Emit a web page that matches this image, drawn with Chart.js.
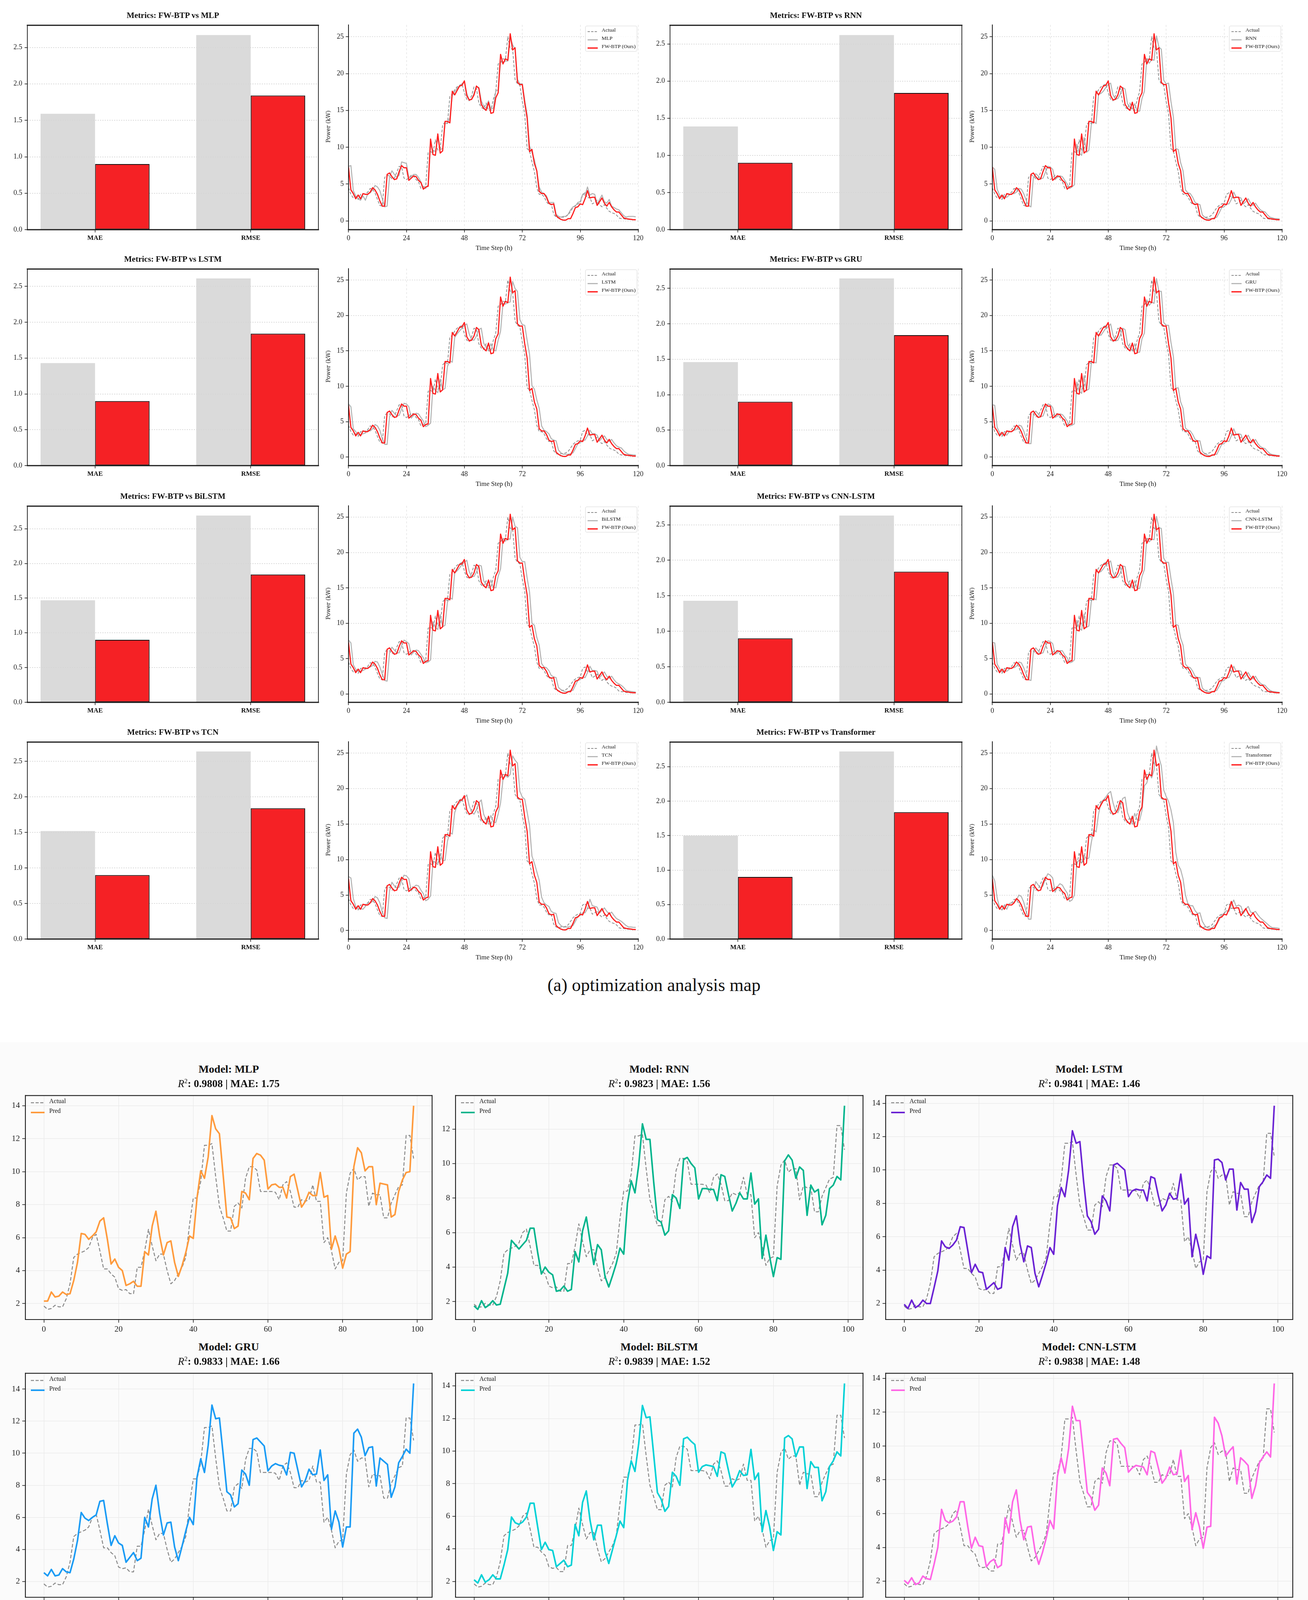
<!DOCTYPE html>
<html>
<head>
<meta charset="utf-8">
<title>FW-BTP optimization and forecasting analysis</title>
<script src="https://cdn.jsdelivr.net/npm/chart.js@4.4.1/dist/chart.umd.min.js"></script>
<style>
  html, body { margin: 0; padding: 0; background: #fff; }
  #page { position: relative; width: 3348px; height: 4961px; overflow: hidden;
          font-family: "Liberation Serif", "Times New Roman", serif; color: #111; }
  #bandB { position: absolute; left: 0; top: 2668px; width: 3348px; height: 2262px; background: #fbfbfb; }
  .txt { position: absolute; transform: translate(-50%, -50%); white-space: nowrap; line-height: 1; }
  .lgA { position: absolute; box-sizing: border-box; border: 1.5px solid #d6d6d6; border-radius: 4px;
         background: rgba(255, 255, 255, 0.85); }
  .lgRow { position: absolute; white-space: nowrap; line-height: 1; transform: translateY(-50%); }
  .smp { position: absolute; overflow: visible; }
</style>
</head>
<body>
<div id="page"><div id="bandB"></div></div>
<script>
// ---------- (a) optimization analysis: metrics + 120 h traces ----------
const metricNames = ["MAE", "RMSE"];
const modelsA = ["MLP", "RNN", "LSTM", "GRU", "BiLSTM", "CNN-LSTM", "TCN", "Transformer"];
const maeA = [1.59, 1.39, 1.43, 1.46, 1.47, 1.43, 1.52, 1.50];
const rmseA = [2.67, 2.62, 2.61, 2.64, 2.69, 2.63, 2.64, 2.72];
const oursMae = 0.90;
const oursRmse = 1.84;
const hourTicks = [0, 24, 48, 72, 96, 120];

const actualA = [
  4.5, 3.6, 3.1, 3.3, 2.9, 3.6, 3.6, 3.7, 3.9, 4.4,
  4.3, 3.8, 2.9, 2.1, 2.0, 5.9, 6.2, 6.1, 5.7, 5.8,
  6.6, 7.4, 7.3, 5.8, 5.6, 5.8, 6.2, 6.1, 5.6, 5.3,
  4.4, 4.6, 4.8, 9.3, 9.4, 9.2, 11.0, 9.6, 9.8, 13.0,
  13.4, 13.2, 16.9, 17.2, 17.8, 18.2, 18.4, 18.6, 17.4, 16.5,
  16.3, 17.0, 18.2, 18.0, 16.0, 15.4, 15.2, 16.0, 15.0, 15.0,
  16.5, 17.5, 21.3, 21.5, 22.0, 21.9, 25.0, 23.4, 23.3, 19.2,
  18.6, 18.4, 16.2, 14.5, 9.8, 9.5, 8.0, 6.7, 4.5, 3.6,
  3.6, 3.3, 2.6, 2.2, 2.3, 0.9, 0.5, 0.4, 0.5, 0.5,
  0.6, 0.8, 1.3, 1.8, 2.1, 2.3, 2.4, 3.6, 3.8, 3.1,
  3.2, 2.3, 2.5, 2.8, 2.2, 1.9, 2.2, 1.7, 1.3, 1.1,
  1.0, 0.8, 0.4, 0.3, 0.3, 0.2, 0.2, 0.15, 0.15, 0.15
];
const oursA = [
  7.3, 4.2, 3.7, 3.0, 3.5, 3.0, 3.7, 3.6, 3.6, 3.9,
  4.5, 4.2, 3.6, 2.7, 2.0, 2.0, 6.3, 6.5, 6.0, 5.6,
  5.7, 6.7, 7.5, 7.2, 7.2, 5.5, 5.8, 6.1, 6.0, 5.5,
  5.2, 4.3, 4.6, 4.7, 11.1, 9.0, 8.9, 11.8, 9.2, 9.5,
  13.5, 13.5, 13.3, 17.6, 17.1, 17.7, 18.3, 18.4, 19.0, 17.0,
  16.4, 16.5, 17.1, 18.3, 18.0, 15.8, 15.3, 15.0, 16.1, 14.6,
  14.7, 16.7, 17.4, 22.6, 21.3, 22.0, 21.8, 25.4, 23.2, 23.5,
  18.8, 18.5, 18.5, 16.0, 14.0, 9.4, 9.7, 7.8, 6.8, 4.0,
  3.7, 3.7, 3.2, 2.4, 2.2, 2.3, 0.7, 0.4, 0.2, 0.1,
  0.1, 0.3, 0.3, 1.0, 1.8, 1.9, 2.3, 2.2, 3.0, 4.1,
  3.1, 3.2, 3.2, 2.1, 2.6, 3.1, 2.4, 2.0, 2.5, 1.9,
  1.5, 1.2, 1.2, 0.8, 0.4, 0.3, 0.25, 0.2, 0.15, 0.15
];
const mlpA = [
  7.4, 7.5, 4.1, 3.4, 3.0, 2.8, 3.4, 2.8, 3.7, 3.8,
  4.2, 4.8, 4.6, 4.1, 3.0, 1.9, 2.0, 6.0, 6.8, 6.3,
  5.9, 6.2, 8.0, 7.9, 7.8, 5.8, 6.0, 6.3, 6.3, 5.9,
  5.3, 4.5, 4.4, 4.9, 10.3, 9.6, 9.4, 11.2, 9.7, 9.8,
  13.2, 13.3, 14.0, 17.0, 17.5, 18.0, 18.3, 18.6, 18.9, 17.3,
  16.4, 16.5, 17.3, 18.2, 18.1, 16.3, 15.6, 15.3, 16.3, 15.2,
  15.3, 17.6, 17.8, 21.6, 21.5, 21.7, 21.7, 24.9, 23.9, 23.3,
  19.2, 18.6, 18.6, 16.4, 14.4, 10.2, 9.3, 8.3, 6.8, 4.6,
  3.9, 3.7, 3.4, 2.5, 2.5, 2.5, 0.9, 0.6, 0.5, 0.6,
  0.6, 0.9, 1.5, 1.9, 2.0, 2.5, 2.6, 3.6, 3.5, 4.6,
  3.5, 3.7, 3.6, 2.3, 2.9, 3.5, 2.6, 2.4, 2.9, 2.0,
  1.8, 1.6, 1.5, 1.1, 0.7, 0.5, 0.6, 0.6, 0.6, 0.55
];
const rnnA = [
  7.3, 7.0, 4.3, 3.5, 3.2, 3.3, 3.2, 3.5, 3.7, 3.7,
  3.9, 4.4, 4.3, 3.7, 2.8, 2.1, 1.9, 5.9, 6.4, 6.1,
  5.7, 5.8, 6.6, 7.4, 7.3, 7.0, 5.6, 5.9, 6.1, 6.0,
  5.5, 5.0, 4.4, 4.6, 4.9, 10.4, 9.2, 8.9, 11.3, 9.3,
  9.6, 13.1, 13.5, 13.2, 17.2, 17.3, 17.6, 18.1, 18.5, 18.7,
  17.1, 16.5, 16.6, 17.2, 18.1, 17.9, 15.9, 15.4, 15.2, 15.9,
  14.9, 14.9, 16.6, 17.6, 22.0, 21.4, 21.9, 21.8, 25.1, 23.6,
  23.3, 19.1, 18.6, 18.7, 16.2, 14.1, 9.8, 9.7, 7.9, 6.8,
  4.2, 3.8, 3.7, 3.2, 2.5, 2.3, 2.2, 0.8, 0.5, 0.3,
  0.3, 0.3, 0.4, 0.5, 1.1, 1.8, 1.9, 2.3, 2.3, 2.9,
  3.9, 3.2, 3.2, 3.1, 2.3, 2.6, 3.0, 2.4, 2.1, 2.4,
  1.9, 1.5, 1.3, 1.2, 0.8, 0.5, 0.4, 0.3, 0.3, 0.25
];
const lstmA = [
  7.5, 7.1, 4.0, 3.6, 3.1, 3.2, 3.3, 3.4, 3.8, 3.7,
  4.0, 4.6, 4.4, 3.8, 2.6, 1.8, 1.8, 5.7, 6.6, 6.2,
  5.8, 5.9, 6.8, 7.6, 7.5, 7.1, 5.5, 5.9, 6.2, 6.1,
  5.6, 5.1, 4.3, 4.5, 4.8, 10.0, 9.4, 9.1, 11.0, 9.5,
  9.7, 12.8, 13.6, 13.4, 16.9, 17.4, 17.8, 18.2, 18.6, 18.8,
  17.4, 16.6, 16.5, 17.1, 18.0, 18.2, 16.1, 15.5, 15.2, 16.0,
  15.1, 15.0, 16.5, 17.8, 21.7, 21.6, 21.8, 21.9, 24.8, 23.8,
  23.4, 19.4, 18.7, 18.6, 16.5, 14.5, 10.1, 9.6, 8.1, 6.9,
  4.4, 3.8, 3.6, 3.3, 2.6, 2.4, 2.3, 1.0, 0.6, 0.4,
  0.4, 0.4, 0.5, 0.6, 1.2, 1.9, 2.0, 2.4, 2.4, 3.0,
  3.8, 3.3, 3.3, 3.1, 2.3, 2.7, 3.0, 2.5, 2.2, 2.5,
  2.0, 1.6, 1.4, 1.3, 0.9, 0.6, 0.4, 0.35, 0.3, 0.3
];
const gruA = [
  7.4, 7.3, 4.2, 3.5, 3.1, 3.3, 3.1, 3.6, 3.6, 3.8,
  3.9, 4.5, 4.4, 3.7, 2.7, 1.9, 1.9, 6.1, 6.5, 6.1,
  5.7, 5.8, 6.7, 7.5, 7.4, 7.0, 5.6, 5.8, 6.1, 6.0,
  5.6, 5.1, 4.4, 4.5, 4.7, 10.6, 9.3, 9.0, 11.5, 9.4,
  9.6, 13.3, 13.4, 13.3, 17.3, 17.2, 17.7, 18.2, 18.4, 18.8,
  17.2, 16.4, 16.5, 17.2, 18.2, 18.0, 15.9, 15.4, 15.1, 16.0,
  14.8, 14.8, 16.7, 17.5, 22.2, 21.4, 21.9, 21.7, 25.2, 23.4,
  23.4, 19.0, 18.6, 18.6, 16.2, 14.2, 9.7, 9.8, 7.8, 6.9,
  4.1, 3.8, 3.7, 3.2, 2.5, 2.3, 2.3, 0.8, 0.5, 0.3,
  0.2, 0.2, 0.4, 0.4, 1.1, 1.8, 1.9, 2.3, 2.2, 3.0,
  4.0, 3.2, 3.3, 3.2, 2.2, 2.6, 3.1, 2.4, 2.1, 2.5,
  1.9, 1.5, 1.3, 1.2, 0.8, 0.5, 0.35, 0.3, 0.25, 0.2
];
const bilstmA = [
  7.6, 7.2, 4.1, 3.5, 3.2, 3.2, 3.3, 3.5, 3.7, 3.8,
  4.0, 4.6, 4.5, 3.8, 2.8, 1.9, 1.8, 5.8, 6.6, 6.2,
  5.8, 5.8, 6.8, 7.6, 7.4, 7.1, 5.5, 5.9, 6.2, 6.1,
  5.6, 5.1, 4.4, 4.5, 4.8, 10.2, 9.4, 9.1, 11.2, 9.5,
  9.7, 13.0, 13.6, 13.4, 17.1, 17.4, 17.8, 18.3, 18.6, 18.9,
  17.3, 16.6, 16.6, 17.2, 18.2, 18.1, 16.0, 15.5, 15.2, 16.1,
  15.0, 15.0, 16.6, 17.7, 21.9, 21.6, 21.9, 21.9, 25.0, 23.7,
  23.5, 19.3, 18.7, 18.7, 16.4, 14.4, 10.0, 9.7, 8.0, 6.9,
  4.3, 3.8, 3.7, 3.3, 2.6, 2.4, 2.3, 0.9, 0.6, 0.4,
  0.3, 0.3, 0.5, 0.5, 1.2, 1.9, 2.0, 2.4, 2.3, 3.0,
  3.9, 3.3, 3.3, 3.2, 2.3, 2.7, 3.1, 2.5, 2.2, 2.5,
  2.0, 1.6, 1.4, 1.2, 0.9, 0.5, 0.4, 0.35, 0.3, 0.25
];
const cnnlstmA = [
  7.3, 7.2, 4.2, 3.6, 3.1, 3.3, 3.2, 3.5, 3.7, 3.7,
  3.9, 4.5, 4.4, 3.7, 2.8, 2.0, 1.9, 5.9, 6.5, 6.1,
  5.7, 5.8, 6.7, 7.5, 7.4, 7.1, 5.6, 5.8, 6.1, 6.1,
  5.5, 5.1, 4.4, 4.5, 4.8, 10.4, 9.3, 9.0, 11.3, 9.4,
  9.6, 13.1, 13.5, 13.3, 17.2, 17.3, 17.7, 18.2, 18.5, 18.8,
  17.2, 16.5, 16.5, 17.1, 18.1, 18.0, 16.0, 15.4, 15.1, 16.0,
  14.9, 14.9, 16.6, 17.6, 22.0, 21.5, 21.9, 21.8, 25.1, 23.5,
  23.4, 19.2, 18.6, 18.6, 16.3, 14.2, 9.8, 9.7, 7.9, 6.9,
  4.2, 3.8, 3.7, 3.2, 2.5, 2.3, 2.3, 0.8, 0.5, 0.3,
  0.3, 0.3, 0.4, 0.5, 1.1, 1.8, 1.9, 2.3, 2.3, 3.0,
  3.9, 3.2, 3.3, 3.2, 2.2, 2.6, 3.0, 2.4, 2.1, 2.5,
  1.9, 1.5, 1.3, 1.2, 0.8, 0.5, 0.35, 0.3, 0.25, 0.2
];
const tcnA = [
  7.6, 7.4, 4.5, 3.4, 3.0, 3.1, 3.0, 3.4, 3.9, 3.9,
  4.1, 4.8, 4.6, 3.9, 2.6, 1.8, 1.7, 5.6, 6.8, 6.3,
  6.0, 6.1, 7.0, 7.8, 7.7, 7.3, 5.6, 6.1, 6.4, 6.3,
  5.7, 5.2, 4.2, 4.4, 4.9, 9.8, 9.6, 9.3, 10.8, 9.8,
  9.9, 12.6, 13.8, 13.6, 16.6, 17.6, 18.0, 18.4, 18.7, 19.1,
  17.6, 16.7, 16.4, 17.0, 18.0, 18.4, 16.4, 15.6, 15.3, 16.2,
  15.3, 15.2, 16.4, 18.0, 21.3, 21.8, 21.6, 22.0, 24.6, 24.0,
  23.6, 19.6, 18.8, 18.5, 16.7, 14.8, 10.5, 9.5, 8.3, 7.1,
  4.7, 3.9, 3.6, 3.4, 2.7, 2.5, 2.4, 1.1, 0.7, 0.5,
  0.5, 0.5, 0.6, 0.7, 1.3, 2.0, 2.1, 2.5, 2.5, 3.1,
  4.4, 3.5, 3.4, 3.3, 2.5, 2.8, 3.2, 2.7, 2.3, 2.6,
  2.1, 1.7, 1.5, 1.3, 1.0, 0.7, 0.5, 0.5, 0.45, 0.45
];
const transformerA = [
  7.8, 7.0, 4.6, 3.2, 2.9, 3.4, 3.0, 3.8, 3.9, 4.0,
  4.3, 5.0, 4.8, 4.0, 2.7, 1.6, 1.6, 5.5, 6.9, 6.4,
  6.0, 6.3, 7.3, 8.0, 7.8, 7.4, 5.4, 6.2, 6.6, 6.4,
  5.8, 5.3, 4.1, 4.3, 5.0, 9.6, 9.9, 9.5, 10.6, 10.1,
  10.2, 12.4, 14.2, 13.9, 16.4, 18.0, 18.4, 18.8, 19.3, 19.6,
  18.0, 16.9, 16.6, 17.5, 18.6, 18.8, 16.6, 15.7, 15.3, 16.5,
  15.6, 15.5, 16.9, 20.4, 20.8, 22.2, 21.5, 22.6, 26.0, 24.4,
  23.2, 19.8, 18.9, 18.2, 17.0, 15.2, 11.0, 9.2, 8.6, 7.3,
  5.0, 3.8, 3.5, 3.5, 2.8, 2.4, 2.5, 1.3, 0.7, 0.4,
  0.3, 0.4, 0.7, 0.9, 1.5, 2.2, 2.4, 2.8, 2.7, 3.6,
  4.3, 3.4, 3.6, 3.4, 2.4, 3.0, 3.4, 2.6, 2.5, 2.7,
  2.2, 1.8, 1.5, 1.2, 0.9, 0.6, 0.4, 0.4, 0.35, 0.3
];
const modelSeriesA = [mlpA, rnnA, lstmA, gruA, bilstmA, cnnlstmA, tcnA, transformerA];

// ---------- (b) wind power forecasting: 100-step traces ----------
const modelsB = ["MLP", "RNN", "LSTM", "GRU", "BiLSTM", "CNN-LSTM", "TCN", "Transformer", "FW-BTP"];
const r2B = ["0.9808", "0.9823", "0.9841", "0.9833", "0.9839", "0.9838", "0.9793", "0.9811", "0.9845"];
const maeB = ["1.75", "1.56", "1.46", "1.66", "1.52", "1.48", "1.92", "1.99", "1.47"];
const colorsB = ["#ff9a3c", "#00b48c", "#6a22d4", "#1a9bf5", "#00d1d6", "#ff66e6", "#ff4d52", "#00adad", "#ff2222"];

const actualB = [
  1.85, 1.65, 1.7, 1.9, 1.8, 1.8, 2.3, 3.2, 4.8, 5.0,
  5.1, 5.2, 5.4, 6.0, 6.2, 5.2, 4.1, 4.1, 3.8, 3.6,
  2.9, 2.8, 2.85, 2.6, 2.6, 4.2, 4.2, 5.2, 6.5, 5.5,
  4.6, 5.0, 5.0, 4.0, 3.2, 3.4, 3.8, 4.2, 4.8, 6.8,
  8.4, 8.4, 9.4, 11.6, 11.6, 11.7, 9.7, 7.9, 7.2, 6.4,
  6.4, 7.9, 8.1, 7.8, 9.6, 10.3, 10.3, 10.1, 8.8, 8.8,
  8.8, 8.8, 8.75, 8.3, 9.2, 9.4, 8.8, 7.85, 7.85, 8.3,
  8.2, 8.3, 9.2, 8.2, 8.2, 5.7, 6.0, 5.2, 4.1, 4.5,
  4.6, 8.7, 9.9, 10.2, 9.5, 9.7, 9.7, 7.9, 8.7, 8.6,
  8.6, 7.2, 7.2, 8.1, 8.6, 9.1, 9.2, 12.2, 12.2, 10.8
];
const mlpB = [
  2.15, 2.15, 2.7, 2.4, 2.45, 2.7, 2.55, 2.6, 3.4, 4.5,
  6.25, 6.2, 5.9, 6.1, 6.35, 7.0, 7.2, 5.9, 4.4, 4.7,
  4.2, 4.0, 3.1, 3.2, 3.35, 3.05, 3.05, 5.15, 4.95, 6.7,
  7.6, 6.1, 4.95, 5.7, 5.8, 4.5, 3.65, 4.3, 5.1, 6.1,
  5.95, 8.4, 10.05, 9.6, 10.9, 13.4, 12.6, 12.3, 9.8, 7.25,
  7.2, 6.55, 6.7, 8.8, 8.7, 8.3, 10.8, 11.1, 11.0, 10.7,
  8.95, 9.2, 9.25, 9.05, 9.05, 8.4, 9.7, 9.85, 8.85, 7.85,
  8.2, 8.75, 8.55, 8.55, 9.95, 8.45, 8.55, 5.3, 6.1, 5.35,
  4.15, 5.0, 5.15, 10.3, 11.45, 11.15, 10.05, 10.3, 10.3, 8.0,
  9.3, 9.25, 9.2, 7.25, 7.4, 8.8, 9.5, 9.95, 10.0, 14.0
];
const rnnB = [
  1.75, 1.55, 2.05, 1.65, 1.8, 2.05, 1.8, 1.85, 2.75, 3.65,
  5.55, 5.3, 5.05, 5.3, 5.55, 6.25, 6.25, 4.85, 3.6, 4.0,
  3.7, 3.55, 2.6, 2.65, 2.9, 2.6, 2.7, 4.9, 4.3, 6.1,
  6.9, 5.5, 4.15, 5.3, 5.0, 3.45, 2.85, 3.5, 4.2, 5.1,
  4.75, 7.7, 9.0, 8.3, 9.9, 12.3, 11.4, 11.4, 8.95, 6.75,
  6.6, 5.85, 6.1, 8.2, 8.0, 7.4, 10.25, 10.35, 10.0, 9.75,
  7.95, 8.55, 8.55, 8.5, 8.5, 7.85, 9.35, 9.25, 8.2, 7.25,
  7.7, 8.3, 7.95, 7.95, 9.45, 7.65, 7.95, 4.5, 5.85, 4.6,
  3.45, 4.55, 4.45, 10.15, 10.5, 10.2, 9.15, 9.8, 9.6, 7.0,
  8.75, 8.35, 8.5, 6.45, 7.0, 8.55, 8.75, 9.25, 9.05, 13.35
];
const lstmB = [
  1.95, 1.7, 2.2, 1.75, 1.9, 2.2, 2.0, 2.0, 2.95, 3.95,
  5.75, 5.4, 5.3, 5.5, 5.8, 6.6, 6.55, 5.2, 3.85, 4.35,
  3.9, 3.85, 2.85, 3.05, 3.25, 2.85, 2.95, 5.35, 4.6, 6.6,
  7.25, 5.55, 4.5, 5.45, 5.35, 3.8, 3.0, 3.7, 4.45, 5.35,
  4.95, 7.85, 8.95, 8.4, 10.0, 12.35, 11.6, 11.7, 9.3, 7.25,
  6.9, 6.15, 6.45, 8.45, 8.15, 7.55, 10.3, 10.4, 10.2, 10.0,
  8.4, 8.75, 8.85, 8.8, 8.8, 8.15, 9.6, 9.5, 8.45, 7.55,
  7.9, 8.6, 8.25, 8.3, 9.75, 7.95, 8.3, 4.8, 6.15, 5.2,
  3.75, 4.85, 4.7, 10.6, 10.65, 10.45, 9.4, 10.05, 10.05, 7.6,
  9.25, 8.85, 8.85, 6.85, 7.5, 9.0, 9.3, 9.7, 9.5, 13.85
];
const gruB = [
  2.55, 2.35, 2.75, 2.35, 2.4, 2.8, 2.6, 2.55, 3.4, 4.55,
  6.3, 5.95, 5.8, 6.0, 6.15, 7.0, 7.05, 5.6, 4.25, 4.85,
  4.4, 4.25, 3.2, 3.5, 3.8, 3.3, 3.45, 6.0, 5.4, 7.15,
  8.0, 6.25, 4.9, 5.65, 5.7, 4.15, 3.3, 4.2, 5.15, 6.0,
  5.55, 8.5, 9.65, 8.8, 10.5, 13.0, 12.15, 12.2, 9.95, 7.6,
  7.4, 6.65, 6.85, 8.95, 8.7, 8.0, 10.85, 10.95, 10.7, 10.45,
  8.9, 9.2, 9.35, 9.25, 9.2, 8.65, 10.05, 10.0, 8.95, 7.9,
  8.3, 9.0, 8.65, 8.7, 10.2, 8.3, 8.65, 5.25, 6.4, 5.7,
  4.15, 5.4, 5.4, 11.25, 11.5, 11.0, 9.85, 10.35, 10.4, 7.95,
  9.7, 9.5, 9.3, 7.25, 7.9, 9.4, 9.8, 10.25, 10.0, 14.35
];
const bilstmB = [
  2.1, 1.9, 2.4, 1.95, 2.1, 2.4, 2.15, 2.15, 3.0, 3.95,
  5.95, 5.6, 5.5, 5.65, 5.95, 6.8, 6.8, 5.35, 3.95, 4.4,
  3.95, 3.9, 2.9, 3.1, 3.3, 2.9, 3.0, 5.5, 4.8, 6.85,
  7.55, 5.75, 4.55, 5.45, 5.45, 3.85, 3.1, 3.95, 4.8, 5.7,
  5.3, 8.2, 9.4, 8.75, 10.45, 12.8, 12.05, 12.1, 9.8, 7.45,
  7.05, 6.3, 6.6, 8.7, 8.45, 7.9, 10.75, 10.85, 10.6, 10.4,
  8.7, 9.05, 9.15, 9.1, 9.05, 8.45, 9.95, 9.85, 8.8, 7.8,
  8.2, 8.8, 8.5, 8.55, 10.1, 8.25, 8.65, 5.05, 6.35, 5.35,
  3.9, 5.05, 4.85, 10.8, 10.95, 10.75, 9.65, 10.25, 10.25, 7.7,
  9.35, 9.0, 9.0, 6.95, 7.5, 9.05, 9.4, 9.95, 9.7, 14.15
];
const cnnlstmB = [
  2.05, 1.85, 2.2, 1.8, 1.9, 2.3, 2.15, 2.1, 3.0, 4.0,
  6.25, 5.6, 5.45, 5.55, 5.8, 6.7, 6.7, 5.25, 3.95, 4.6,
  4.1, 4.05, 2.85, 3.15, 3.3, 2.8, 2.95, 5.75, 4.85, 6.7,
  7.4, 5.6, 4.45, 5.2, 5.25, 3.8, 3.0, 3.7, 4.55, 5.6,
  5.1, 8.2, 9.3, 8.4, 9.85, 12.35, 11.5, 11.5, 9.4, 7.25,
  6.95, 6.2, 6.5, 8.7, 8.4, 7.65, 10.4, 10.45, 10.15, 9.9,
  8.45, 8.7, 8.85, 8.8, 8.75, 8.3, 9.7, 9.6, 8.7, 7.8,
  8.1, 8.75, 8.3, 8.35, 9.75, 7.9, 8.25, 5.05, 6.05, 5.2,
  3.95, 5.2, 5.25, 11.7, 11.35, 10.6, 9.4, 9.7, 9.95, 7.75,
  9.3, 9.1, 8.85, 6.9, 7.65, 9.0, 9.35, 9.65, 9.35, 13.7
];
const tcnB = [
  1.73, 1.8, 1.7, 1.7, 1.6, 1.73, 1.95, 1.88, 2.15, 3.0,
  4.35, 5.4, 5.4, 5.35, 5.65, 6.25, 6.55, 6.0, 4.85, 4.25,
  4.0, 3.75, 3.2, 2.65, 2.65, 2.6, 2.45, 3.75, 4.45, 4.8,
  5.85, 5.55, 4.45, 4.35, 4.75, 3.7, 2.8, 2.6, 3.6, 4.45,
  4.7, 5.7, 7.85, 8.7, 9.1, 10.7, 12.2, 11.85, 10.35, 8.25,
  5.95, 6.0, 6.6, 7.5, 8.35, 8.3, 9.45, 11.1, 11.1, 10.6,
  9.75, 9.0, 9.1, 9.3, 9.45, 9.3, 9.65, 10.6, 10.3, 9.4,
  8.85, 9.1, 9.25, 8.9, 9.25, 9.3, 8.55, 6.65, 5.3, 5.55,
  4.7, 4.4, 4.9, 7.1, 10.15, 10.95, 10.5, 10.05, 10.25, 9.3,
  8.65, 9.05, 8.9, 8.0, 7.05, 7.7, 8.85, 9.45, 9.6, 10.95
];
const transformerB = [
  2.9, 2.9, 3.25, 3.05, 3.1, 3.3, 3.2, 3.2, 3.85, 4.9,
  6.5, 6.8, 6.8, 6.95, 7.2, 7.75, 7.9, 6.9, 5.7, 5.75,
  5.5, 5.35, 4.5, 4.4, 4.5, 4.2, 4.2, 5.9, 5.9, 7.25,
  8.2, 7.3, 6.25, 6.6, 6.55, 5.4, 4.5, 4.8, 5.35, 6.2,
  6.2, 8.05, 9.6, 9.6, 10.7, 12.65, 12.6, 12.7, 10.65, 8.75,
  8.3, 7.7, 7.65, 9.0, 9.2, 8.85, 10.7, 11.2, 11.2, 11.05,
  9.85, 9.85, 9.85, 9.85, 9.8, 9.45, 10.25, 10.4, 9.85, 9.05,
  9.1, 9.55, 9.4, 9.4, 10.35, 9.3, 9.3, 6.95, 7.15, 6.55,
  5.3, 5.8, 5.95, 10.2, 11.3, 11.5, 10.9, 11.0, 11.0, 9.35,
  10.1, 10.1, 10.05, 8.8, 8.85, 9.8, 10.35, 10.7, 10.65, 13.45
];
const fwbtpB = [
  0.6, 1.0, 0.75, 0.8, 1.1, 1.0, 0.95, 1.7, 3.1, 5.25,
  5.2, 5.15, 5.25, 5.5, 6.35, 6.45, 5.25, 3.85, 4.0, 3.6,
  3.4, 2.35, 2.25, 2.25, 1.8, 1.75, 4.35, 4.1, 5.8, 6.9,
  5.5, 4.2, 5.25, 5.35, 3.95, 2.8, 3.35, 4.3, 5.3, 4.95,
  7.75, 9.25, 8.75, 10.2, 12.65, 12.2, 12.25, 9.95, 7.9, 7.1,
  6.35, 6.6, 8.55, 8.45, 7.9, 10.45, 10.85, 10.7, 10.45, 8.85,
  9.05, 9.05, 9.1, 9.05, 8.5, 9.75, 9.8, 8.85, 7.9, 8.05,
  8.6, 8.35, 8.4, 9.8, 8.3, 8.45, 5.3, 6.05, 5.2, 3.8,
  4.6, 4.55, 10.0, 10.55, 10.4, 9.8, 10.15, 10.1, 7.85, 9.0,
  8.8, 8.75, 6.95, 7.2, 8.25, 8.85, 9.45, 9.35, 13.35, 13.1
];
const predSeriesB = [mlpB, rnnB, lstmB, gruB, bilstmB, cnnlstmB, tcnB, transformerB, fwbtpB];

// ---------- layout (page pixels) ----------
const A_BAR_L = [70, 1715], A_BAR_R = [815, 2462];
const A_LINE_L = [892, 2540], A_LINE_R = [1637, 3285];
const A_TOP = [60, 684, 1291, 1895], A_BOT = [588, 1192, 1798, 2404];
const B_L = [65, 1166, 2267], B_R = [1106, 2209, 3309];
const B_T = [2798, 3509, 4221], B_B = [3378, 4089, 4801];
const PAD_A = {l: 70, t: 12, r: 14, b: 40};
const PAD_B = {l: 70, t: 12, r: 14, b: 45};

const page = document.getElementById("page");
Chart.defaults.font.family = "'Liberation Serif', 'Times New Roman', serif";
Chart.defaults.color = "#222";

// matplotlib-like spines, drawn over the data
Chart.register({
  id: "spines",
  afterDatasetsDraw(chart, args, opts) {
    const s = opts.sides;
    if (!s) return;
    const {ctx, chartArea: a} = chart;
    ctx.save();
    ctx.strokeStyle = "#1a1a1a";
    ctx.lineCap = "square";
    const seg = (w, x1, y1, x2, y2) => {
      if (!w) return;
      ctx.lineWidth = w;
      ctx.beginPath(); ctx.moveTo(x1, y1); ctx.lineTo(x2, y2); ctx.stroke();
    };
    seg(s.top, a.left, a.top, a.right, a.top);
    seg(s.bottom, a.left, a.bottom, a.right, a.bottom);
    seg(s.left, a.left, a.top, a.left, a.bottom);
    seg(s.right, a.right, a.top, a.right, a.bottom);
    ctx.restore();
  }
});

function makeCanvas(l, t, r, b, p) {
  const w = r - l + p.l + p.r, h = b - t + p.t + p.b;
  const box = document.createElement("div");
  box.style.cssText = `position:absolute;left:${l - p.l}px;top:${t - p.t}px;width:${w}px;height:${h}px;`;
  const cv = document.createElement("canvas");
  cv.width = w; cv.height = h;
  cv.style.width = w + "px"; cv.style.height = h + "px";
  box.appendChild(cv);
  page.appendChild(box);
  return cv;
}

function addText(html, x, y, css) {
  const d = document.createElement("div");
  d.className = "txt";
  d.innerHTML = html;
  d.style.left = x + "px";
  d.style.top = y + "px";
  if (css) d.style.cssText += css;
  page.appendChild(d);
}

function sampleSvg(w, it) {
  const dash = it.dash ? `stroke-dasharray="${it.dash}"` : "";
  return `<svg width="${w}" height="10" viewBox="0 0 ${w} 10"><line x1="0" y1="5" x2="${w}" y2="5" stroke="${it.color}" stroke-width="${it.width}" ${dash}/></svg>`;
}

function addLegend(x, y, items, o) {
  items.forEach((it, i) => {
    const cy = y + o.first + i * o.step;
    const s = document.createElement("div");
    s.className = "smp";
    s.style.cssText = `left:${x + o.sx}px;top:${cy - 5}px;width:${o.sw}px;height:10px;`;
    s.innerHTML = sampleSvg(o.sw, it);
    page.appendChild(s);
    const t = document.createElement("div");
    t.className = "lgRow";
    t.style.cssText = `left:${x + o.tx}px;top:${cy}px;font-size:${o.size}px;`;
    t.textContent = it.label;
    page.appendChild(t);
  });
}

const toXY = vals => vals.map((v, i) => ({x: i, y: v}));

function baseOptions(p, xOpts, yOpts, sides) {
  return {
    responsive: false,
    animation: false,
    devicePixelRatio: 1,
    layout: {padding: {left: 0, top: p.t, right: p.r, bottom: 0}},
    plugins: {legend: {display: false}, tooltip: {enabled: false}, spines: {sides: sides}},
    elements: {point: {radius: 0}, line: {tension: 0, borderJoinStyle: "round"}},
    scales: {
      x: Object.assign({type: "linear", afterFit: s => { s.height = p.b; }}, xOpts),
      y: Object.assign({type: "linear", afterFit: s => { s.width = p.l; }}, yOpts)
    }
  };
}

// ---------- part (a) ----------
modelsA.forEach((name, k) => {
  const col = k % 2, row = Math.floor(k / 2);
  const t = A_TOP[row], b = A_BOT[row];

  // metrics bar chart
  const bl = A_BAR_L[col], br = A_BAR_R[col];
  const barTop = 1.05 * Math.max(maeA[k], rmseA[k], oursMae, oursRmse);
  const barOpts = baseOptions(PAD_A, {
    min: -0.435, max: 1.435, offset: false,
    afterBuildTicks: s => { s.ticks = [{value: 0}, {value: 1}]; },
    ticks: {callback: v => metricNames[v], font: {size: 17, weight: "bold"}, color: "#111", padding: 4, maxRotation: 0},
    grid: {display: true, drawOnChartArea: false, offset: false, tickLength: 7, tickColor: "#222", tickWidth: 1.6},
    border: {display: false}
  }, {
    min: 0, max: barTop,
    ticks: {stepSize: 0.5, includeBounds: false, callback: v => v.toFixed(1), font: {size: 18}, padding: 6},
    grid: {color: "#d2d2d2", lineWidth: 1.6, tickLength: 7, tickColor: "#222", tickWidth: 1.6},
    border: {display: false, dash: [3, 3]}
  }, {top: 3, bottom: 3, left: 1.8, right: 1.8});
  barOpts.datasets = {bar: {categoryPercentage: 0.7, barPercentage: 1.0, grouped: true}};
  new Chart(makeCanvas(bl, t, br, b, PAD_A), {
    type: "bar",
    data: {datasets: [
      {label: name, data: [{x: 0, y: maeA[k]}, {x: 1, y: rmseA[k]}],
       backgroundColor: "rgba(213,213,213,0.88)", borderWidth: 0},
      {label: "FW-BTP", data: [{x: 0, y: oursMae}, {x: 1, y: oursRmse}],
       backgroundColor: "#f52125", borderColor: "#111", borderWidth: 2, borderSkipped: false}
    ]},
    options: barOpts
  });
  addText(`Metrics: FW-BTP vs ${name}`, (bl + br) / 2, t - 21, "font-weight:bold;font-size:21px;");

  // 120 h trace chart
  const ll = A_LINE_L[col], lr = A_LINE_R[col];
  new Chart(makeCanvas(ll, t, lr, b, PAD_A), {
    type: "line",
    data: {datasets: [
      {label: "FW-BTP (Ours)", data: toXY(oursA), borderColor: "#ff1f1f", borderWidth: 3},
      {label: name, data: toXY(modelSeriesA[k]), borderColor: "rgba(160,160,160,0.8)", borderWidth: 2.6},
      {label: "Actual", data: toXY(actualA), borderColor: "#8e8e8e", borderWidth: 2, borderDash: [7, 4]}
    ]},
    options: baseOptions(PAD_A, {
      min: 0, max: 120,
      afterBuildTicks: s => { s.ticks = hourTicks.map(v => ({value: v})); },
      ticks: {font: {size: 18}, padding: 4, maxRotation: 0},
      grid: {color: "#e2e2e2", lineWidth: 1.4, tickLength: 7, tickColor: "#222", tickWidth: 1.6},
      border: {display: false, dash: [5, 5]}
    }, {
      min: -1.2, max: 26.6,
      ticks: {stepSize: 5, includeBounds: false, font: {size: 18}, padding: 5},
      grid: {color: "#d6d6d6", lineWidth: 1.5, tickLength: 7, tickColor: "#222", tickWidth: 1.6},
      border: {display: false, dash: [3, 3]}
    }, {left: 2, bottom: 3})
  });
  addText("Time Step (h)", (ll + lr) / 2, b + 46, "font-size:17px;");
  addText("Power (kW)", ll - 52, (t + b) / 2,
    "font-family:'DejaVu Serif',serif;font-size:14px;transform:translate(-50%,-50%) rotate(-90deg);");

  const lg = document.createElement("div");
  lg.className = "lgA";
  lg.style.cssText = `left:${lr - 139}px;top:${t + 6}px;width:133px;height:66px;`;
  page.appendChild(lg);
  addLegend(lr - 139, t + 6, [
    {label: "Actual", color: "#8e8e8e", width: 2, dash: "6,3"},
    {label: name, color: "rgba(160,160,160,0.85)", width: 2.6},
    {label: "FW-BTP (Ours)", color: "#ff1f1f", width: 3.4}
  ], {first: 11, step: 21, sx: 6, sw: 26, tx: 42, size: 13.5});
});

addText("(a) optimization analysis map", 1674, 2522, "font-size:46px;");

// ---------- part (b) ----------
modelsB.forEach((name, k) => {
  const col = k % 3, row = Math.floor(k / 3);
  const l = B_L[col], r = B_R[col], t = B_T[row], b = B_B[row];
  const pred = predSeriesB[k];
  const lo = Math.min(...pred, ...actualB), hi = Math.max(...pred, ...actualB);
  const padY = 0.05 * (hi - lo);
  const isOurs = name === "FW-BTP";
  new Chart(makeCanvas(l, t, r, b, PAD_B), {
    type: "line",
    data: {datasets: [
      {label: "Pred", data: toXY(pred), borderColor: colorsB[k], borderWidth: isOurs ? 5 : 4},
      {label: "Actual", data: toXY(actualB), borderColor: "#8a8a8a", borderWidth: 2.5, borderDash: [9, 5]}
    ]},
    options: baseOptions(PAD_B, {
      min: -4.95, max: 103.95,
      ticks: {stepSize: 20, includeBounds: false, font: {size: 21}, padding: 5, maxRotation: 0},
      grid: {color: "#ebebeb", lineWidth: 1.5, tickLength: 8, tickColor: "#222", tickWidth: 1.6},
      border: {display: false}
    }, {
      min: lo - padY, max: hi + padY,
      ticks: {stepSize: 2, includeBounds: false, font: {size: 21}, padding: 6},
      grid: {color: "#ebebeb", lineWidth: 1.5, tickLength: 8, tickColor: "#222", tickWidth: 1.6},
      border: {display: false}
    }, {top: 2.2, bottom: 2.2, left: 2.2, right: 2.2})
  });
  addText(`Model: ${name}`, (l + r) / 2, t - 61, "font-weight:bold;font-size:28px;");
  addText(`<span style="font-style:italic;font-weight:normal">R</span><sup style="font-size:0.62em;font-weight:normal">2</sup>: ${r2B[k]} | MAE: ${maeB[k]}`,
    (l + r) / 2, t - 24, "font-weight:bold;font-size:27px;");
  addLegend(l, t, [
    {label: "Actual", color: "#8a8a8a", width: 2.5, dash: "8,4"},
    {label: "Pred", color: colorsB[k], width: isOurs ? 5 : 4}
  ], {first: 21, step: 25, sx: 14, sw: 35, tx: 61, size: 16});
});

addText("(b) wind power forecasting analysis map", 1674, 4922, "font-size:52px;");
</script>
</body>
</html>
